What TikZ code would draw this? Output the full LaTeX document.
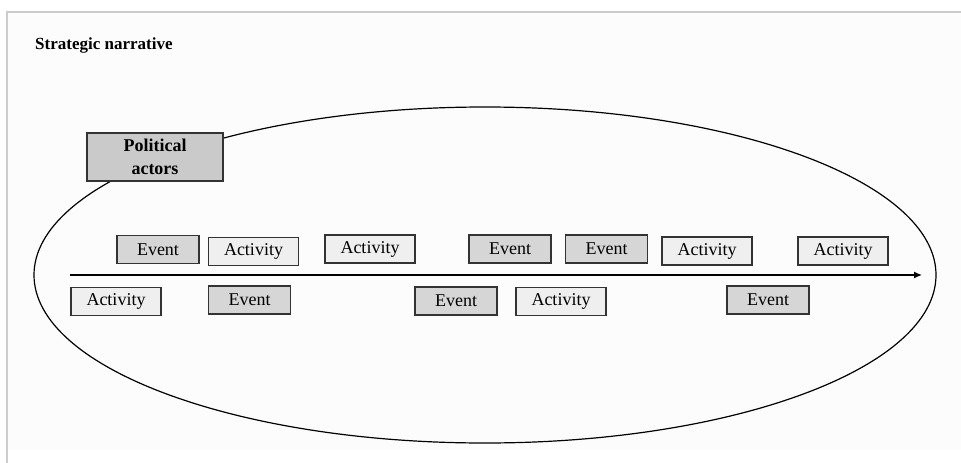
\documentclass[tikz,border=0pt]{standalone}
\usepackage{fontspec}
\setmainfont{Liberation Serif}
\usetikzlibrary{arrows.meta}
\definecolor{framegray}{HTML}{CCCCCC}
\definecolor{panel}{HTML}{FCFCFC}
\definecolor{eventfill}{HTML}{D6D6D6}
\definecolor{actfill}{HTML}{EFEFEF}
\definecolor{actorfill}{HTML}{CACACA}
\definecolor{boxline}{HTML}{333333}
\tikzset{
  basebox/.style={draw=boxline, line width=1.3pt, inner sep=0pt, minimum height=28pt,
    font=\fontsize{18}{21}\selectfont},
  eventbox/.style={basebox, fill=eventfill, minimum width=82pt},
  actbox/.style={basebox, fill=actfill, minimum width=90pt},
  actorbox/.style={draw=boxline, line width=1.3pt, fill=actorfill, minimum width=136pt,
    minimum height=48pt, inner sep=0pt, align=center,
    font=\fontsize{18}{23}\selectfont\bfseries},
}
\begin{document}
\begin{tikzpicture}[x=1pt,y=-1pt]
\useasboundingbox (0,0) rectangle (961,463);
\fill[white] (0,0) rectangle (961,463);
\fill[panel] (8,13) rectangle (961,450);
\draw[framegray, line width=2pt] (7,463) -- (7,12) -- (961,12);
\node[anchor=west, inner sep=0pt, font=\fontsize{17}{20}\selectfont\bfseries] (title) at (35,45) {Strategic narrative};
\draw[black, line width=1.2pt] (485,275) ellipse [x radius=451, y radius=168];
\coordinate (tstart) at (70,275);
\coordinate (tend) at (922,275);
\draw[line width=1.3pt, -{Latex[length=8pt,width=7pt]}] (tstart) -- (tend);
\node[actorbox] (actors) at (155,157) {Political\\actors};
% top row
\node[eventbox] (e1) at (158,249.5) {Event};
\node[actbox] (a1) at (253.5,251.5) {Activity};
\node[actbox] (a2) at (370,249) {Activity};
\node[eventbox] (e2) at (510,249) {Event};
\node[eventbox] (e3) at (606.5,249) {Event};
\node[actbox] (a3) at (707,251) {Activity};
\node[actbox] (a4) at (843,251) {Activity};
% bottom row
\node[actbox] (a5) at (116,301.5) {Activity};
\node[eventbox] (e4) at (249.5,300) {Event};
\node[eventbox] (e5) at (456,301) {Event};
\node[actbox] (a6) at (561,301.5) {Activity};
\node[eventbox] (e6) at (768,300) {Event};
\end{tikzpicture}
\end{document}
